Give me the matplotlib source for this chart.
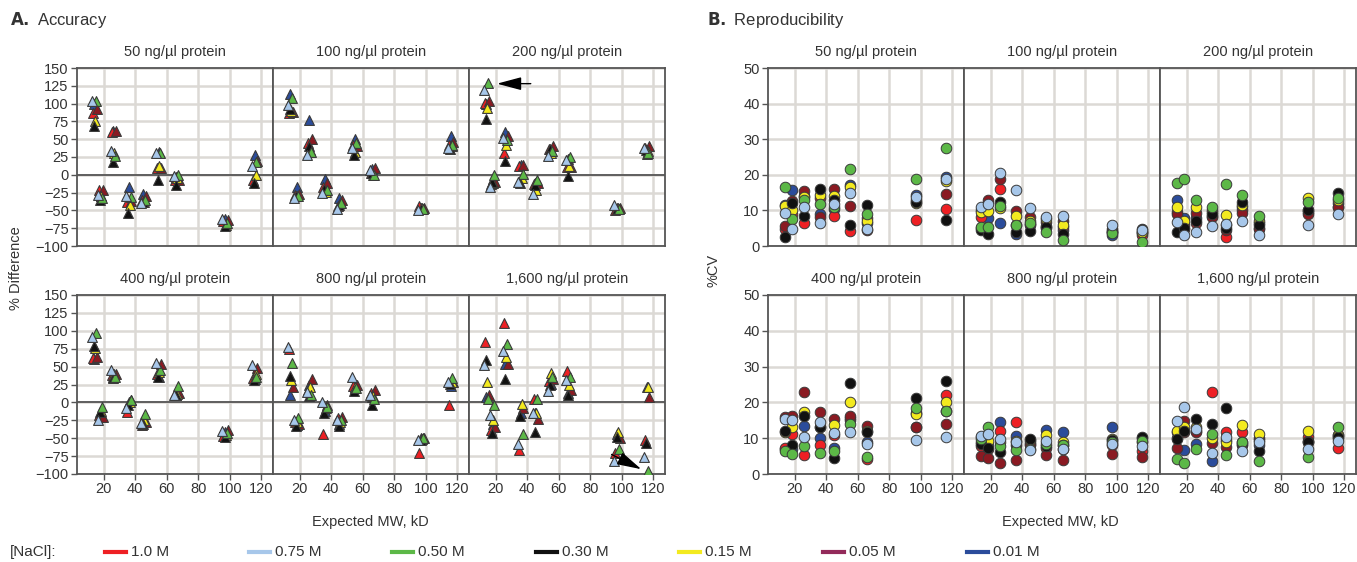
import matplotlib
matplotlib.use('Agg')
from matplotlib import pyplot as plt
from matplotlib.lines import Line2D
import numpy as np

plt.rcParams['font.family'] = ['Liberation Sans', 'DejaVu Sans']

# expected MW of the ladder proteins (kD)
mw = [14, 18, 26, 36, 45, 55, 66, 97, 116]

# salt levels, legend labels and colours
salts = ['1.0 M', '0.75 M', '0.50 M', '0.30 M', '0.15 M', '0.05 M', '0.01 M']
salt_colors = ['#ee2024', '#a7c7ea', '#5cb847', '#111111', '#f3ea1f', '#8a1a22', '#2b4c9b']
legend_colors = ['#ee2024', '#a7c7ea', '#5cb847', '#111111', '#f3ea1f', '#932a5a', '#2b4c9b']
dodge = [-1.0, -1.6, 1.0, -0.3, 0.4, 1.6, 0.0]

concs = ['50', '100', '200', '400', '800', '1,600']

# A. accuracy, % difference (rows = salt, cols = protein)
acc_50 = [[87, -22, 60, -38, -35, 9, -8, -65, -8],
          [103, -29, 33, -30, -40, 31, -2, -62, 12],
          [103, -33, 27, -31, -35, 30, 0, -68, 18],
          [68, -35, 18, -53, -38, -7, -15, -72, -12],
          [75, -30, 30, -43, -38, 12, -5, -70, 0],
          [93, -22, 62, -37, -30, 10, -7, -64, 20],
          [100, -30, 62, -17, -27, 32, -3, -62, 28]]
acc_100 = [[87, -28, 44, -17, -44, 42, 3, -44, 42],
           [98, -33, 28, -26, -48, 37, 7, -50, 38],
           [108, -30, 32, -22, -40, 45, 0, -48, 42],
           [92, -30, 40, -20, -42, 28, 2, -48, 36],
           [90, -30, 35, -24, -40, 32, 0, -47, 40],
           [88, -27, 50, -11, -36, 40, 10, -46, 46],
           [113, -17, 77, -6, -33, 50, 8, -47, 54]]
acc_200 = [[101, -13, 30, 12, -13, 36, 11, -49, 38],
           [119, -17, 51, -10, -27, 26, 21, -43, 37],
           [129, 0, 49, 1, -8, 33, 25, -48, 31],
           [79, -10, 19, -11, -15, 36, -1, -48, 35],
           [94, -12, 42, -5, -21, 31, 12, -46, 33],
           [103, -10, 54, 14, -11, 40, 11, -47, 40],
           [100, -6, 60, 14, -11, 34, 22, -46, 29]]
acc_400 = [[62, -18, 38, -13, -32, 40, 12, -47, 34],
           [92, -25, 45, -8, -29, 55, 10, -40, 52],
           [97, -6, 36, 4, -16, 45, 23, -43, 36],
           [79, -14, 34, -4, -30, 35, 10, -49, 31],
           [76, -12, 40, 1, -25, 42, 12, -45, 40],
           [63, -20, 40, 3, -28, 54, 13, -38, 48],
           [60, -15, 36, 0, -27, 36, 11, -42, 33]]
acc_800 = [[75, -28, 17, -44, -22, 23, 13, -71, -4],
           [78, -25, 15, 0, -25, 35, 11, -52, 29],
           [55, -22, 10, -7, -25, 20, 5, -50, 34],
           [37, -33, 9, -15, -33, 16, -4, -52, 26],
           [31, -27, 21, -8, -27, 22, 9, -51, 28],
           [22, -30, 33, -4, -20, 24, 17, -50, 29],
           [10, -32, 24, -12, -30, 20, 7, -50, 23]]
acc_1600 = [[84, -38, 111, -67, 5, 30, 44, -71, -52],
            [52, -18, 72, -58, -15, 16, 31, -82, -76],
            [5, -4, 81, -44, 5, 35, 36, -65, -96],
            [59, -43, 33, -19, -42, 25, 11, -48, -57],
            [28, -25, 64, -2, -15, 41, 24, -41, 21],
            [11, -34, 54, -8, -23, 33, 17, -50, 8],
            [8, -30, 54, -15, -15, 26, 13, -44, 21]]

# B. reproducibility, %CV
cv_50 = [[4.9, 9.0, 6.6, 13.6, 8.3, 4.1, 8.0, 7.2, 10.3],
         [9.3, 4.9, 11.0, 6.5, 11.7, 15.0, 4.9, 13.8, 18.9],
         [16.6, 7.7, 12.8, 11.7, 11.0, 21.5, 9.1, 18.9, 27.6],
         [2.5, 12.0, 8.4, 16.1, 12.8, 5.8, 11.4, 12.5, 7.2],
         [11.2, 10.2, 13.8, 14.4, 14.0, 16.6, 7.0, 12.1, 18.2],
         [5.5, 12.6, 15.4, 8.1, 16.1, 11.2, 4.5, 12.8, 14.7],
         [11.5, 15.6, 14.0, 9.1, 10.3, 17.0, 6.5, 14.2, 19.4]]
cv_100 = [[8.1, 12.0, 15.9, 6.0, 6.1, 5.5, 5.2, 4.0, 3.0],
          [11.0, 11.9, 20.5, 15.6, 10.8, 8.1, 8.4, 5.8, 4.6],
          [5.3, 5.3, 11.2, 5.8, 6.5, 3.9, 1.8, 3.6, 1.1],
          [4.6, 3.5, 12.4, 3.9, 4.2, 5.3, 3.3, 4.0, 4.8],
          [9.6, 9.8, 10.6, 8.4, 7.0, 7.5, 6.0, 4.2, 4.0],
          [10.0, 13.0, 18.9, 9.8, 8.1, 6.7, 7.0, 4.8, 4.0],
          [5.0, 8.0, 6.6, 3.5, 6.0, 5.0, 4.5, 3.1, 3.6]]
cv_200 = [[9.5, 6.0, 6.6, 8.5, 2.5, 10.0, 5.0, 10.0, 11.0],
          [6.7, 3.2, 3.8, 5.6, 6.3, 7.0, 3.2, 5.8, 9.1],
          [17.8, 18.9, 13.0, 11.0, 17.3, 14.4, 8.4, 12.4, 13.6],
          [3.9, 5.0, 7.0, 9.0, 5.0, 12.4, 6.0, 10.1, 15.0],
          [11.0, 6.9, 11.0, 9.6, 8.8, 11.5, 7.0, 13.5, 13.0],
          [9.1, 4.9, 9.3, 8.1, 4.5, 9.4, 4.9, 9.1, 11.0],
          [12.8, 8.0, 8.0, 10.0, 6.0, 11.0, 6.4, 9.5, 12.0]]
cv_400 = [[7.4, 11.1, 5.3, 8.1, 10.9, 15.7, 4.2, 17.0, 22.0],
          [15.3, 15.1, 10.2, 14.6, 11.4, 11.6, 8.5, 9.5, 10.2],
          [6.3, 5.6, 7.9, 5.8, 6.3, 13.9, 4.8, 18.3, 17.5],
          [12.0, 8.1, 16.2, 13.2, 4.6, 25.5, 11.6, 21.3, 26.1],
          [11.6, 13.0, 17.4, 13.0, 13.6, 20.1, 12.0, 16.7, 20.0],
          [16.0, 16.2, 22.9, 17.4, 15.5, 16.2, 13.4, 13.2, 13.9],
          [7.0, 7.0, 13.4, 10.0, 7.2, 15.0, 9.0, 13.0, 17.5]]
cv_800 = [[7.9, 6.9, 12.0, 14.6, 8.5, 7.4, 7.0, 8.0, 6.5],
          [10.6, 11.3, 9.7, 8.8, 6.7, 9.1, 6.9, 8.3, 7.9],
          [9.7, 13.2, 7.9, 6.7, 7.0, 8.5, 8.1, 9.0, 9.3],
          [8.5, 7.4, 6.2, 8.0, 9.9, 7.9, 8.0, 9.5, 10.2],
          [9.0, 9.3, 9.0, 9.3, 9.5, 10.9, 8.8, 9.9, 9.0],
          [4.9, 4.6, 3.2, 4.0, 8.0, 5.3, 4.0, 5.6, 4.8],
          [10.2, 8.0, 14.5, 10.6, 9.0, 12.3, 11.8, 13.0, 10.0]]
cv_1600 = [[11.6, 11.6, 12.0, 23.0, 11.8, 11.6, 10.0, 10.4, 7.4],
           [14.8, 18.8, 12.5, 5.8, 10.2, 6.3, 9.0, 7.1, 9.3],
           [4.2, 3.2, 6.9, 11.1, 5.3, 9.0, 3.7, 4.8, 13.1],
           [9.7, 12.0, 15.3, 13.9, 18.5, 8.8, 6.5, 8.8, 10.2],
           [12.0, 13.2, 13.0, 10.0, 9.0, 13.6, 11.1, 11.9, 11.0],
           [7.4, 14.8, 11.6, 8.6, 7.6, 8.3, 9.5, 9.3, 10.8],
           [10.0, 6.8, 8.3, 3.7, 9.5, 8.0, 8.0, 9.0, 10.0]]

acc_panels = [acc_50, acc_100, acc_200, acc_400, acc_800, acc_1600]
cv_panels = [cv_50, cv_100, cv_200, cv_400, cv_800, cv_1600]

W, H = 1357, 562
fig = plt.figure(figsize=(W / 100, H / 100), dpi=100)
txt = '#333333'
spine_c = '#555555'
arrow_style = '-|>,head_length=1.5,head_width=0.4'


def make_axes(left_px, col, row):
    top_px = [68, 295][row]
    bot_px = [246, 474][row]
    ax = fig.add_axes([(left_px + 196 * col) / W, 1 - bot_px / H,
                       196 / W, (bot_px - top_px) / H])
    ax.set_xlim(3, 127.5)
    ax.set_xticks([20, 40, 60, 80, 100, 120])
    ax.grid(True, color='#dcd9d5', lw=1.8, zorder=0)
    ax.set_axisbelow(True)
    for s in ax.spines.values():
        s.set_color(spine_c)
        s.set_linewidth(1.3)
    ax.tick_params(colors=spine_c, labelcolor=txt, labelsize=10.5,
                   direction='out', length=4, width=1, pad=2)
    if col > 0:
        ax.tick_params(left=False, labelleft=False)
    if row == 0:
        ax.tick_params(bottom=False, labelbottom=False)
    ax.set_title(concs[row * 3 + col] + ' ng/µl protein', fontsize=10.5,
                 color=txt, pad=9)
    return ax


# drawing order of the salt series (last one ends up on top)
order = [6, 0, 5, 4, 3, 2, 1]

for i in range(6):
    row, col = divmod(i, 3)
    # accuracy
    ax = make_axes(77, col, row)
    ax.set_ylim(-100, 150)
    ax.set_yticks(np.arange(-100, 151, 25))
    ax.axhline(0, color=spine_c, lw=1.3, zorder=1)
    for k in order:
        ax.scatter(np.array(mw) + dodge[k], acc_panels[i][k], marker='^', s=50,
                   color=salt_colors[k], edgecolors='#3a3a3a', linewidths=0.8,
                   zorder=3)
    if i == 2:
        ax.annotate('', xy=(19, 128), xytext=(44, 128),
                    arrowprops=dict(arrowstyle=arrow_style, color='black', lw=1),
                    zorder=5)
    if i == 5:
        ax.annotate('', xy=(114, -95), xytext=(92, -71),
                    arrowprops=dict(arrowstyle=arrow_style, color='black', lw=1),
                    zorder=5)
    # reproducibility
    ax = make_axes(768, col, row)
    ax.set_ylim(0, 50)
    ax.set_yticks(np.arange(0, 51, 10))
    for k in order:
        ax.scatter(mw, cv_panels[i][k], marker='o', s=58,
                   color=salt_colors[k], edgecolors='#3a3a3a', linewidths=0.7,
                   zorder=3)

# headings and axis labels
fig.text(10 / W, 1 - 20 / H, r'$\bf{A.}$ Accuracy', fontsize=12, color=txt, va='center')
fig.text(707 / W, 1 - 20 / H, r'$\bf{B.}$ Reproducibility', fontsize=12, color=txt, va='center')
fig.text(16 / W, 1 - 268 / H, '% Difference', rotation=90, fontsize=10.5, color=txt,
         ha='center', va='center')
fig.text(713 / W, 1 - 270 / H, '%CV', rotation=90, fontsize=10.5, color=txt,
         ha='center', va='center')
fig.text(370 / W, 1 - 522 / H, 'Expected MW, kD', fontsize=10.5, color=txt,
         ha='center', va='center')
fig.text(1060 / W, 1 - 522 / H, 'Expected MW, kD', fontsize=10.5, color=txt,
         ha='center', va='center')

# legend
ly = 1 - 552 / H
fig.text(10 / W, ly, '[NaCl]:', fontsize=11, color=txt, va='center')
for k, lab in enumerate(salts):
    x0 = 105 + 143.6 * k
    fig.add_artist(Line2D([x0 / W, (x0 + 21) / W], [ly, ly], color=legend_colors[k], lw=3))
    fig.text((x0 + 26) / W, ly, lab, fontsize=11, color=txt, va='center')

fig.savefig('out.png', dpi=100)
